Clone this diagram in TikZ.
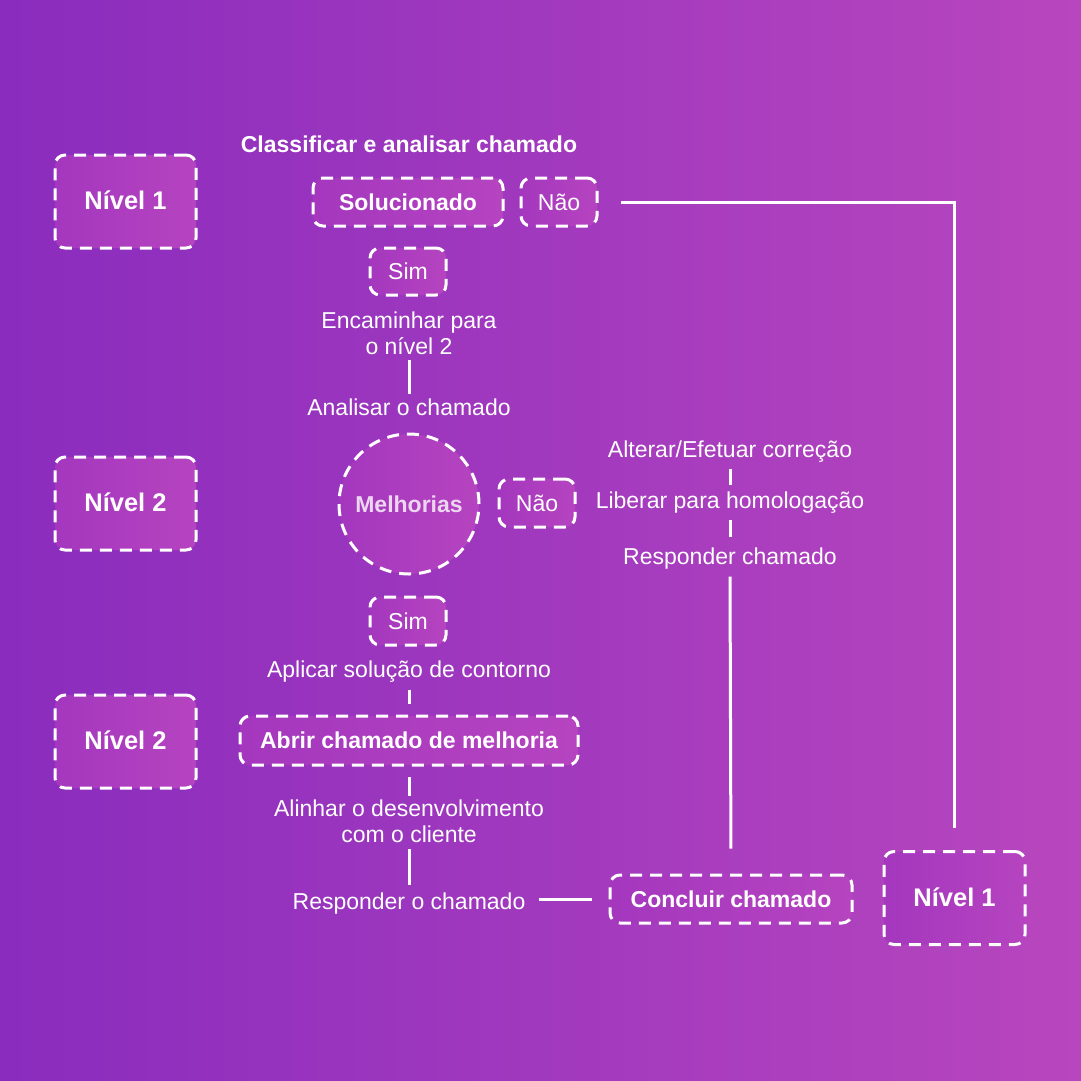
\documentclass[tikz,border=0pt]{standalone}
\usepackage{fontspec}
\setmainfont{Liberation Sans}
\definecolor{bgL}{RGB}{138,44,190}
\definecolor{bgR}{RGB}{184,70,190}
\definecolor{boxL}{RGB}{164,55,190}
\definecolor{boxR}{RGB}{182,68,192}
\definecolor{meltext}{RGB}{236,214,240}
\begin{document}
\begin{tikzpicture}[x=1pt,y=-1pt,
  basefont/.style={font=\fontsize{23}{26}\selectfont},
  boldfont/.style={font=\fontsize{23}{26}\selectfont\bfseries},
  txt/.style={basefont, text=white, inner sep=0pt, text height=16pt, text depth=5pt},
  txtm/.style={basefont, text=white, inner sep=0pt, align=center},
  dbox/.style={draw=white, line width=3pt, dash pattern=on 12pt off 8pt,
    rounded corners=10pt, left color=boxL, right color=boxR, inner sep=0pt,
    text=white, text height=16pt, text depth=0pt},
  lvl/.style={dbox, font=\fontsize{25.5}{28}\selectfont\bfseries, minimum width=141pt, minimum height=93pt},
  smallbox/.style={dbox, basefont, minimum width=76pt, minimum height=48pt},
  conn/.style={draw=white, line width=3pt}
]
\useasboundingbox (0,0) rectangle (1081,1081);
\shade[left color=bgL, right color=bgR] (0,0) rectangle (1081,1081);

% Level boxes
\node[lvl] (n1a) at (125.5,201.5) {Nível 1};
\node[lvl] (n2a) at (125.5,503.5) {Nível 2};
\node[lvl] (n2b) at (125.5,741.5) {Nível 2};
\node[lvl] (n1b) at (954.5,898) {Nível 1};

% Level 1 section
\node[txt, boldfont] (title) at (409,147) {Classificar e analisar chamado};
\node[dbox, boldfont, minimum width=190pt, minimum height=48pt] (sol) at (408,202) {Solucionado};
\node[smallbox] (nao1) at (559,202) {Não};
\node[smallbox, minimum height=47pt] (sim1) at (408,271.5) {Sim};
\node[txtm] (enc) at (409,333.5) {Encaminhar para\\o nível 2};
\node[txt] (anal) at (409,410) {Analisar o chamado};

% Level 2 section
\node[circle, draw=white, line width=3pt, dash pattern=on 12pt off 8pt,
  left color=boxL, right color=boxR, minimum size=140pt, inner sep=0pt,
  text=meltext, boldfont, text height=16pt, text depth=0pt] (mel) at (409,504) {Melhorias};
\node[smallbox] (nao2) at (537,503) {Não};
\node[txt] (alt) at (730,452) {Alterar/Efetuar correção};
\node[txt] (lib) at (730,503) {Liberar para homologação};
\node[txt] (resp) at (730,559) {Responder chamado};

\node[smallbox] (sim2) at (408,621) {Sim};
\node[txt] (apl) at (409,672) {Aplicar solução de contorno};
\node[dbox, boldfont, minimum width=338pt, minimum height=49pt] (abr) at (409,740.5) {Abrir chamado de melhoria};
\node[txtm] (ali) at (409,821) {Alinhar o desenvolvimento\\com o cliente};
\node[txt] (resp2) at (409,904) {Responder o chamado};
\node[dbox, boldfont, minimum width=242pt, minimum height=48pt] (con) at (731,899) {Concluir chamado};

% Connectors
\draw[conn, shorten <=22pt, shorten >=22pt] (nao1.east) -| (n1b.north);
\draw[conn, shorten <=5pt, shorten >=5pt] (enc.south) -- (anal.north);
\draw[conn, shorten <=6pt, shorten >=7pt] (alt.south) -- (lib.north);
\draw[conn, shorten <=6pt, shorten >=11pt] (lib.south) -- (resp.north);
\draw[conn, shorten <=7pt, shorten >=25pt] (resp.south) -- (con.north);
\draw[conn, shorten <=7pt, shorten >=11pt] (apl.south) -- (abr.north);
\draw[conn, shorten <=10pt, shorten >=3pt] (abr.south) -- (ali.north);
\draw[conn, shorten <=6pt, shorten >=8pt] (ali.south) -- (resp2.north);
\draw[conn, shorten <=13pt, shorten >=17pt] (resp2.east |- con.west) -- (con.west);
\end{tikzpicture}
\end{document}
